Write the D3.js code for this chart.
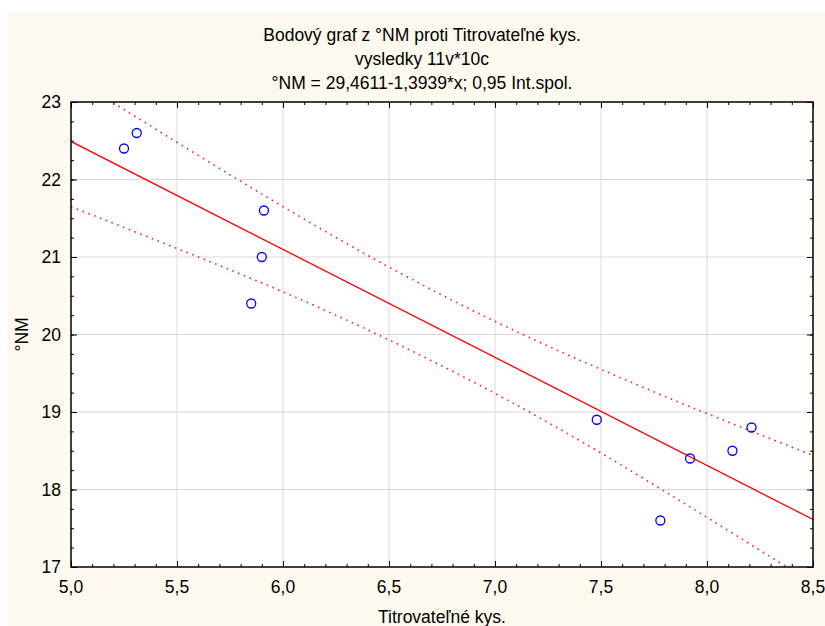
<!DOCTYPE html>
<html>
<head>
<meta charset="utf-8">
<script src="https://cdn.jsdelivr.net/npm/d3@7"></script>
<style>
    body { margin: 0; background: #fff; }
    svg { display: block; font-family: "Liberation Sans", Arial, sans-serif; }
</style>
</head>
<body>
<svg id="chart" width="825" height="626"></svg>
<script>
// data
const titrKys = [5.25, 5.31, 5.85, 5.90, 5.91, 7.48, 7.78, 7.92, 8.12, 8.21];
const stupneNM = [22.4, 22.6, 20.4, 21.0, 21.6, 18.9, 17.6, 18.4, 18.5, 18.8];

// regression from the title: °NM = 29,4611 - 1,3939*x
const intercept = 29.4611;
const slope = -1.3939;

// 0,95 confidence band, read at x = 5.0 .. 8.5
const bandX = [5.0, 5.5, 6.0, 6.5, 7.0, 7.5, 8.0, 8.5];
const bandUpper = [23.33, 22.48, 21.65, 20.87, 20.17, 19.55, 18.98, 18.44];
const bandLower = [21.65, 21.11, 20.55, 19.93, 19.24, 18.47, 17.64, 16.79];

const xTicks = [5.0, 5.5, 6.0, 6.5, 7.0, 7.5, 8.0, 8.5];
const yTicks = [17, 18, 19, 20, 21, 22, 23];
const titleLines = [
    "Bodový graf z °NM proti Titrovateľné kys.",
    "vysledky 11v*10c",
    "°NM = 29,4611-1,3939*x; 0,95 Int.spol."
];

let svg = d3.select("#chart");
let margin = {top: 102, right: 12, bottom: 59, left: 71},
    width = 825 - margin.left - margin.right,
    height = 626 - margin.top - margin.bottom;
let fontSize = 17.5;

// cream panel
svg.append("rect")
    .attr("x", 7).attr("y", 12)
    .attr("width", 825 - 7).attr("height", 626 - 12)
    .attr("fill", "#fef9ef");

let x = d3.scaleLinear().domain([5, 8.5]).range([0, width]);
let y = d3.scaleLinear().domain([17, 23]).range([height, 0]);
let fmt = d => d3.format(".1f")(d).replace(".", ",");

svg.selectAll("text.title")
    .data(titleLines)
    .enter().append("text")
    .attr("class", "title")
    .attr("x", 422)
    .attr("y", (d, i) => 41 + i * 24)
    .attr("text-anchor", "middle")
    .attr("font-size", fontSize)
    .text(d => d);

let g = svg.append("g")
    .attr("transform", "translate(" + margin.left + "," + margin.top + ")");

g.append("rect")
    .attr("width", width).attr("height", height)
    .attr("fill", "#fff");

g.append("clipPath").attr("id", "clip")
    .append("rect").attr("width", width).attr("height", height);

// grid
g.append("g").selectAll("line")
    .data(xTicks.slice(1, -1))
    .enter().append("line")
    .attr("x1", d => x(d)).attr("x2", d => x(d))
    .attr("y1", 0).attr("y2", height)
    .attr("stroke", "#d9d9d9");
g.append("g").selectAll("line")
    .data(yTicks.slice(1, -1))
    .enter().append("line")
    .attr("y1", d => y(d)).attr("y2", d => y(d))
    .attr("x1", 0).attr("x2", width)
    .attr("stroke", "#d9d9d9");

// axes with inward ticks on all four sides
let xMinor = d3.range(50, 86).map(v => v / 10);
let yMinor = d3.range(68, 93).map(v => v / 4);

function tickAxis(axis, scale, vals, size) {
    return axis(scale).tickValues(vals).tickSize(size).tickFormat("");
}

g.append("g").attr("transform", "translate(0," + height + ")")
    .call(tickAxis(d3.axisTop, x, xMinor, 3));
g.append("g")
    .call(tickAxis(d3.axisBottom, x, xMinor, 3));
g.append("g")
    .call(tickAxis(d3.axisRight, y, yMinor, 3));
g.append("g").attr("transform", "translate(" + width + ",0)")
    .call(tickAxis(d3.axisLeft, y, yMinor, 3));

g.append("g").attr("transform", "translate(0," + height + ")")
    .call(tickAxis(d3.axisTop, x, xTicks, 6));
g.append("g")
    .call(tickAxis(d3.axisBottom, x, xTicks, 6));
g.append("g")
    .call(tickAxis(d3.axisRight, y, yTicks, 6));
g.append("g").attr("transform", "translate(" + width + ",0)")
    .call(tickAxis(d3.axisLeft, y, yTicks, 6));

g.selectAll(".domain").remove();
g.selectAll(".tick line").attr("stroke", "#000");

// tick labels
g.append("g").selectAll("text")
    .data(xTicks)
    .enter().append("text")
    .attr("x", d => x(d))
    .attr("y", height + 26)
    .attr("text-anchor", "middle")
    .attr("font-size", fontSize)
    .text(fmt);
g.append("g").selectAll("text")
    .data(yTicks)
    .enter().append("text")
    .attr("x", -10)
    .attr("y", d => y(d) + 6)
    .attr("text-anchor", "end")
    .attr("font-size", fontSize)
    .text(d => d);

// axis titles
svg.append("text")
    .attr("x", margin.left + width / 2)
    .attr("y", 623)
    .attr("text-anchor", "middle")
    .attr("font-size", fontSize)
    .text("Titrovateľné kys.");
svg.append("text")
    .attr("transform", "translate(28," + (margin.top + height / 2) + ") rotate(-90)")
    .attr("text-anchor", "middle")
    .attr("font-size", fontSize)
    .text("°NM");

let plot = g.append("g").attr("clip-path", "url(#clip)");

let bandLine = d3.line()
    .x(d => x(d[0]))
    .y(d => y(d[1]))
    .curve(d3.curveNatural);

[bandUpper, bandLower].forEach(function (vals) {
    plot.append("path")
        .datum(bandX.map((v, i) => [v, vals[i]]))
        .attr("d", bandLine)
        .attr("fill", "none")
        .attr("stroke", "#ff2020")
        .attr("stroke-width", 1.6)
        .attr("stroke-dasharray", "1.6,4.6");
});

plot.append("line")
    .attr("x1", x(5)).attr("y1", y(intercept + slope * 5))
    .attr("x2", x(8.5)).attr("y2", y(intercept + slope * 8.5))
    .attr("stroke", "#ff0000")
    .attr("stroke-width", 1.3);

plot.selectAll("circle")
    .data(titrKys)
    .enter().append("circle")
    .attr("cx", d => x(d))
    .attr("cy", (d, i) => y(stupneNM[i]))
    .attr("r", 4.5)
    .attr("fill", "none")
    .attr("stroke", "#0000ff")
    .attr("stroke-width", 1.3);

// frame
g.append("rect")
    .attr("width", width).attr("height", height)
    .attr("fill", "none")
    .attr("stroke", "#000")
    .attr("stroke-width", 1.5);
</script>
</body>
</html>
